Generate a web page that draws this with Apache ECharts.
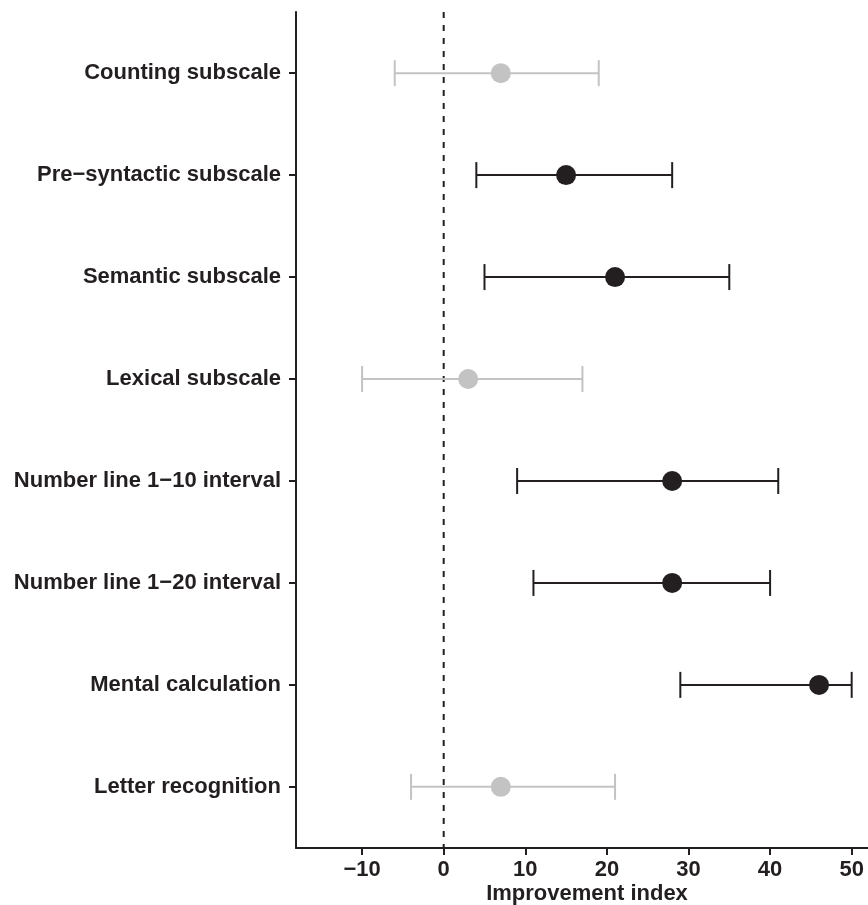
<!DOCTYPE html>
<html><head><meta charset="utf-8">
<script src="https://cdn.jsdelivr.net/npm/echarts@6/dist/echarts.min.js"></script>
<style>html,body{margin:0;padding:0;background:#fff}#c{width:868px;height:905px}</style>
</head><body><div id="c"></div>
<script>
const categories = ["Counting subscale","Pre\u2212syntactic subscale","Semantic subscale","Lexical subscale","Number line 1\u221210 interval","Number line 1\u221220 interval","Mental calculation","Letter recognition"];
const estimates = [7, 15, 21, 3, 28, 28, 46, 7];
const lower = [-6, 4, 5, -10, 9, 11, 29, -4];
const upper = [19, 28, 35, 17, 41, 40, 50, 21];
const xTicks = [-10, 0, 10, 20, 30, 40, 50];

const DARK = '#231f20', GRAY = '#c3c3c3';
const colorOf = i => (lower[i] <= 0 && upper[i] >= 0) ? GRAY : DARK;
const idx = categories.map((_, i) => i);

const chart = echarts.init(document.getElementById('c'));
const font = 'Liberation Sans, Arial, sans-serif';
chart.setOption({
  animation: false,
  grid: {left: 296, right: 0, top: 12, bottom: 57, outerBoundsMode: 'none', containLabel: false},
  xAxis: {
    type: 'value', min: -18.1, max: 52,
    axisLine: {show: true, onZero: false, lineStyle: {color: DARK, width: 2}},
    axisTick: {show: true, length: 7, lineStyle: {color: DARK, width: 2}, customValues: xTicks},
    axisLabel: {color: DARK, fontSize: 22, fontWeight: 'bold', fontFamily: font, margin: 11, customValues: xTicks,
      formatter: v => v < 0 ? '\u2212' + Math.abs(v) : String(v)},
    splitLine: {show: false},
    name: 'Improvement index', nameLocation: 'middle', nameGap: 35, nameMoveOverlap: false,
    nameTextStyle: {color: DARK, fontSize: 22, fontWeight: 'bold', fontFamily: font, padding: [0, 0, 0, 10]}
  },
  yAxis: {
    type: 'value', inverse: true, min: -0.6, max: 7.6,
    axisLine: {show: true, onZero: false, lineStyle: {color: DARK, width: 2}},
    axisTick: {show: true, length: 7, lineStyle: {color: DARK, width: 2}, customValues: idx},
    axisLabel: {color: DARK, fontSize: 22, fontWeight: 'bold', fontFamily: font, margin: 15, customValues: idx,
      formatter: v => categories[Math.round(v)]},
    splitLine: {show: false}
  },
  series: [
    {
      type: 'custom',
      data: idx.map(i => [lower[i], upper[i], i]),
      renderItem: (params, api) => {
        const i = api.value(2);
        const a = api.coord([api.value(0), i]);
        const b = api.coord([api.value(1), i]);
        const h = 13;
        const st = {stroke: colorOf(i), lineWidth: 2};
        return {type: 'group', children: [
          {type: 'line', shape: {x1: a[0], y1: a[1], x2: b[0], y2: b[1]}, style: st},
          {type: 'line', shape: {x1: a[0], y1: a[1] - h, x2: a[0], y2: a[1] + h}, style: st},
          {type: 'line', shape: {x1: b[0], y1: b[1] - h, x2: b[0], y2: b[1] + h}, style: st}
        ]};
      },
      z: 2
    },
    {
      type: 'line',
      data: [[0, -0.6], [0, 7.6]],
      symbol: 'none',
      lineStyle: {color: DARK, width: 2, type: [6, 7]},
      z: 1
    },
    {
      type: 'scatter',
      symbolSize: 20,
      data: idx.map(i => ({value: [estimates[i], i], itemStyle: {color: colorOf(i), opacity: 1}})),
      z: 3
    }
  ]
});
</script></body></html>
